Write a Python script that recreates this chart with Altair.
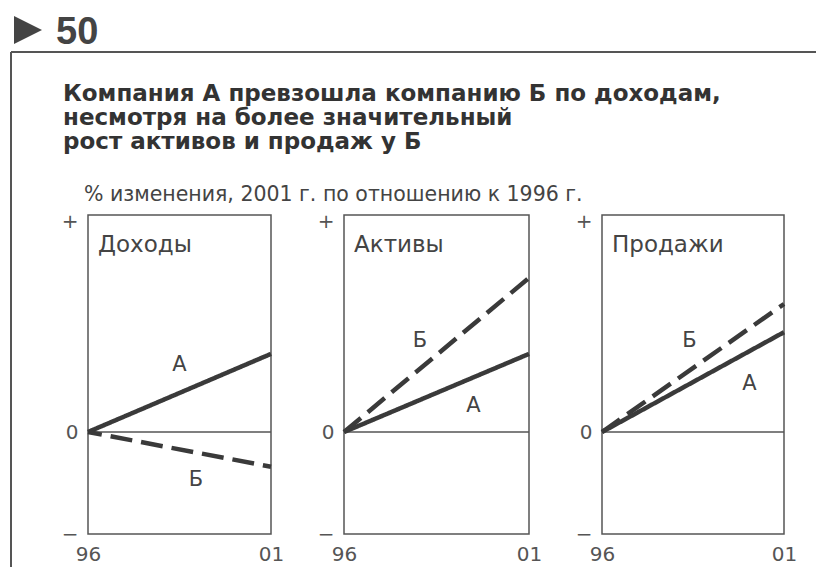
import altair as alt
import pandas as pd

# ---------------- data ----------------
PANELS = ["Доходы", "Активы", "Продажи"]
YEARS = [1996, 2001]
YEAR_LABELS = ["96", "01"]
COMPANIES = ["А", "Б"]
A_START = [0, 0, 0]
A_END = [36, 36, 46]
B_START = [0, 0, 0]
B_END = [-16, 71, 59]
A_LABEL_X = [1998.5, 1999.5, 2000.05]
A_LABEL_Y = [31, 12, 22]
B_LABEL_X = [1998.95, 1998.05, 1998.4]
B_LABEL_Y = [-22, 42, 42]
Y_MIN, Y_MAX = -47, 100
Y_TICK_VALUES = [-47, 0, 97]
Y_TICK_TEXT = ["−", "0", "+"]

NUMBER = "50"
TITLE_LINES = [
    "Компания А превзошла компанию Б по доходам,",
    "несмотря на более значительный",
    "рост активов и продаж у Б",
]
SUBTITLE = "% изменения, 2001 г. по отношению к 1996 г."

FONT = "DejaVu Sans"
NUM_FONT = "Liberation Sans"
INK = "#3a3a3a"
GREY = "#555555"

PANEL_W = [183, 185, 182]
PANEL_H = 319
DASH_OFFSET = [8, 0, 0]

x_scale = alt.Scale(domain=[YEARS[0], YEARS[1]], nice=False, zero=False)
y_scale = alt.Scale(domain=[Y_MIN, Y_MAX], nice=False, zero=False)

x_axis = alt.Axis(
    values=YEARS,
    labelExpr=f"datum.value == {YEARS[0]} ? '{YEAR_LABELS[0]}' : '{YEAR_LABELS[1]}'",
    title=None, ticks=False, domain=False, grid=False, labelFlush=False,
    labelFontSize=20, labelColor=GREY, labelPadding=10, labelFont=FONT,
)
y_axis = alt.Axis(
    values=Y_TICK_VALUES,
    labelExpr=f"datum.value > 0 ? '{Y_TICK_TEXT[2]}' : (datum.value < 0 ? '{Y_TICK_TEXT[0]}' : '{Y_TICK_TEXT[1]}')",
    title=None, ticks=False, domain=False, grid=False,
    labelFontSize=20, labelColor=GREY, labelPadding=10, labelFont=FONT,
    labelBaseline="middle",
)

VIEW = alt.ViewBackground(stroke="#555555", strokeWidth=1.5)


def panel(i):
    rows = []
    for c, s, e in [(COMPANIES[0], A_START[i], A_END[i]), (COMPANIES[1], B_START[i], B_END[i])]:
        rows.append({"year": YEARS[0], "value": s, "company": c})
        rows.append({"year": YEARS[1], "value": e, "company": c})
    df = pd.DataFrame(rows)

    lines = alt.Chart(df).mark_line(
        strokeWidth=4.5, color=INK, strokeCap="butt", strokeDashOffset=DASH_OFFSET[i]
    ).encode(
        x=alt.X("year:Q", scale=x_scale, axis=x_axis),
        y=alt.Y("value:Q", scale=y_scale, axis=y_axis),
        detail="company:N",
        strokeDash=alt.StrokeDash(
            "company:N",
            scale=alt.Scale(domain=COMPANIES, range=[[1, 0], [22, 9]]),
            legend=None,
        ),
    )

    zero = alt.Chart(pd.DataFrame({"value": [0]})).mark_rule(
        color=GREY, strokeWidth=1.3
    ).encode(y=alt.Y("value:Q", scale=y_scale, axis=y_axis))

    lab_df = pd.DataFrame({
        "x": [A_LABEL_X[i], B_LABEL_X[i]],
        "y": [A_LABEL_Y[i], B_LABEL_Y[i]],
        "t": COMPANIES,
    })
    labels = alt.Chart(lab_df).mark_text(
        fontSize=21, color="#444", font=FONT, align="center", baseline="middle"
    ).encode(
        x=alt.X("x:Q", scale=x_scale, axis=x_axis),
        y=alt.Y("y:Q", scale=y_scale, axis=y_axis),
        text="t:N",
    )

    ptitle = alt.Chart(pd.DataFrame({"t": [PANELS[i]]})).mark_text(
        fontSize=23, color="#444", font=FONT, align="left", baseline="alphabetic"
    ).encode(x=alt.value(10), y=alt.value(37), text="t:N")

    layers = [zero, lines, labels, ptitle]

    if i == 0:
        one = pd.DataFrame({"k": [0]})
        frame_top = alt.Chart(one).mark_rule(color="#555", strokeWidth=2).encode(
            x=alt.value(-77), x2=alt.value(728), y=alt.value(-163)
        )
        frame_left = alt.Chart(one).mark_rule(color="#555", strokeWidth=2).encode(
            x=alt.value(-77), y=alt.value(-163), y2=alt.value(352)
        )
        tri = alt.Chart(one).mark_point(
            shape="M-1,-1L1,0L-1,1Z", filled=True, size=784, color="#444", opacity=1
        ).encode(x=alt.value(-60), y=alt.value(-185))
        num = alt.Chart(pd.DataFrame({"t": [NUMBER]})).mark_text(
            fontSize=38, fontWeight="bold", color="#444", font=NUM_FONT,
            align="left", baseline="alphabetic"
        ).encode(x=alt.value(-32), y=alt.value(-171), text="t:N")
        title = alt.Chart(pd.DataFrame({"t": ["\n".join(TITLE_LINES)]})).mark_text(
            fontSize=23, fontWeight="bold", color="#333", font=FONT,
            align="left", baseline="alphabetic", lineBreak="\n", lineHeight=24
        ).encode(x=alt.value(-25), y=alt.value(-114), text="t:N")
        sub = alt.Chart(pd.DataFrame({"t": [SUBTITLE]})).mark_text(
            fontSize=20.5, color="#444", font=FONT, align="left", baseline="alphabetic"
        ).encode(x=alt.value(-4), y=alt.value(-14), text="t:N")
        layers += [frame_top, frame_left, tri, num, title, sub]

    return alt.layer(*layers).properties(
        width=PANEL_W[i], height=PANEL_H, view=VIEW
    )


chart = alt.hconcat(
    panel(0), panel(1), panel(2), spacing=73, bounds="flush"
).properties(
    padding={"left": 1, "top": 5, "right": 0, "bottom": 0}
).configure_view(
    stroke="#555555", strokeWidth=1.5
).configure(font=FONT)

chart.save("out.html", embed_options={"renderer": "svg", "actions": False})
